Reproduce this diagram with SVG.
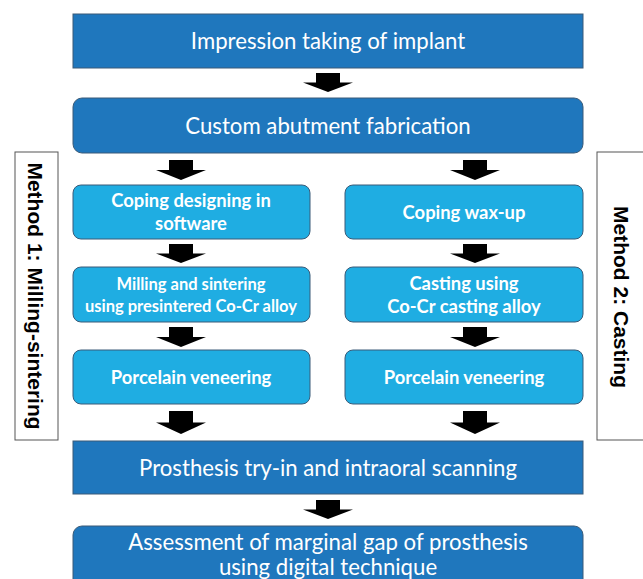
<svg xmlns="http://www.w3.org/2000/svg" width="643" height="579" viewBox="0 0 643 579">
  <style>
    .dark { fill: #1f77bd; stroke: #3b5b78; stroke-width: 1; }
    .light { fill: #1fade2; stroke: #3b5b78; stroke-width: 1; }
    .side { fill: #ffffff; stroke: #555555; stroke-width: 1; }
    .t-main { font-family: Lato, "Open Sans", sans-serif; font-size: 22.2px; fill: #ffffff; text-anchor: middle; }
    .t-sub { font-family: Lato, "Open Sans", sans-serif; font-size: 18.4px; font-weight: bold; fill: #ffffff; text-anchor: middle; }
    .t-small { font-size: 16.5px; }
    .t-side { font-family: "Liberation Sans", Arial, sans-serif; font-size: 21px; font-weight: bold; fill: #000000; text-anchor: middle; }
    .arrow { fill: #000000; }
  </style>
  <defs>
    <!-- block arrow pointing down, origin at top centre -->
    <path id="blk" d="M-12,0 H12 V10 H25 L0,20 L-25,10 H-12 Z"/>
  </defs>

  <rect width="643" height="579" fill="#ffffff"/>

  <!-- side labels -->
  <g id="method1">
    <rect class="side" x="15" y="152" width="43" height="288"/>
    <text class="t-side" transform="translate(28,296) rotate(90)">Method 1: Milling-sintering</text>
  </g>
  <g id="method2">
    <rect class="side" x="597" y="152" width="50" height="288"/>
    <text class="t-side" transform="translate(614,297) rotate(90)">Method 2: Casting</text>
  </g>

  <g id="impression">
    <rect class="dark" x="73" y="14" width="510" height="54"/>
    <text class="t-main" x="328" y="49">Impression taking of implant</text>
  </g>
  <g id="abutment">
    <rect class="dark" x="73" y="98" width="510" height="55" rx="9"/>
    <text class="t-main" x="328" y="134">Custom abutment fabrication</text>
  </g>

  <g id="coping-design">
    <rect class="light" x="73" y="185" width="237" height="54" rx="8"/>
    <text class="t-sub" x="191" y="207">Coping designing in</text>
    <text class="t-sub" x="191" y="230">software</text>
  </g>
  <g id="milling">
    <rect class="light" x="73" y="267" width="237" height="55" rx="8"/>
    <text class="t-sub t-small" x="191" y="290">Milling and sintering</text>
    <text class="t-sub t-small" x="191" y="312">using presintered Co-Cr alloy</text>
  </g>
  <g id="veneer-1">
    <rect class="light" x="73" y="350" width="237" height="54" rx="8"/>
    <text class="t-sub" x="191" y="384">Porcelain veneering</text>
  </g>

  <g id="wax-up">
    <rect class="light" x="345" y="185" width="238" height="54" rx="8"/>
    <text class="t-sub" x="464" y="219">Coping wax-up</text>
  </g>
  <g id="casting">
    <rect class="light" x="345" y="267" width="238" height="55" rx="8"/>
    <text class="t-sub" x="464" y="290">Casting using</text>
    <text class="t-sub" x="464" y="313">Co-Cr casting alloy</text>
  </g>
  <g id="veneer-2">
    <rect class="light" x="345" y="350" width="238" height="54" rx="8"/>
    <text class="t-sub" x="464" y="384">Porcelain veneering</text>
  </g>

  <g id="tryin">
    <rect class="dark" x="73" y="441" width="510" height="53"/>
    <text class="t-main" x="328" y="476">Prosthesis try-in and intraoral scanning</text>
  </g>
  <g id="assessment">
    <rect class="dark" x="73" y="526" width="510" height="70" rx="9"/>
    <text class="t-main" x="328" y="550">Assessment of marginal gap of prosthesis</text>
    <text class="t-main" x="328" y="575">using digital technique</text>
  </g>

  <g id="connectors" class="arrow">
    <use href="#blk" transform="translate(328,73) scale(1,0.95)"/>
    <use href="#blk" transform="translate(181,160)"/>
    <use href="#blk" transform="translate(475,160)"/>
    <use href="#blk" transform="translate(181,244) scale(1,0.95)"/>
    <use href="#blk" transform="translate(475,244) scale(1,0.95)"/>
    <use href="#blk" transform="translate(181,327)"/>
    <use href="#blk" transform="translate(475,327)"/>
    <use href="#blk" transform="translate(181,411) scale(1,1.15)"/>
    <use href="#blk" transform="translate(475,411) scale(1,1.15)"/>
    <use href="#blk" transform="translate(328,500) scale(1,0.95)"/>
  </g>
</svg>
